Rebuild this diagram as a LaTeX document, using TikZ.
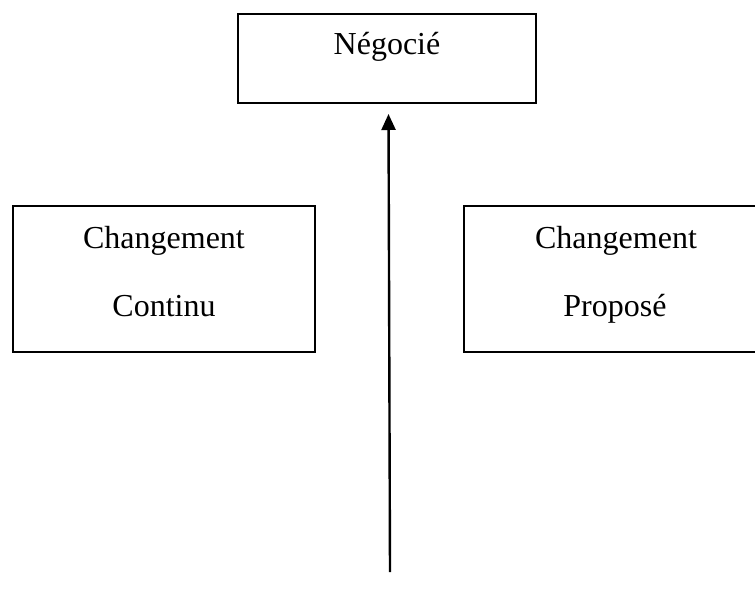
\documentclass[tikz,border=0pt]{standalone}
\usepackage{fontspec}
\setmainfont{Liberation Serif}
\usetikzlibrary{arrows.meta}
\begin{document}
\begin{tikzpicture}[x=1pt,y=-1pt,
  box/.style={draw=black,line width=1.6pt,fill=none,inner sep=0pt,outer sep=0pt},
  lbl/.style={font=\fontsize{32}{38}\selectfont,anchor=base,inner sep=0pt},
  arr/.style={line width=2.4pt,-{Triangle[length=16pt,width=14pt]}}]
\clip (0,0) rectangle (755,598);
\fill[white] (0,0) rectangle (755,598);
\node[box,minimum width=298pt,minimum height=89pt] (neg) at (387,58.5) {};
\node[box,minimum width=302pt,minimum height=146pt] (cont) at (164,279) {};
\node[box,minimum width=304pt,minimum height=146pt] (prop) at (616,279) {};
\node[lbl] (negt) at (387,54) {Négocié};
\node[lbl] (cont1) at (164,248) {Changement};
\node[lbl] (cont2) at (164,316) {Continu};
\node[lbl] (prop1) at (616,248) {Changement};
\node[lbl] (prop2) at (615,316) {Proposé};
\coordinate (tail) at (390,572);
\coordinate (tip) at (388.5,114);
\draw[arr] (tail) -- (tip);
\end{tikzpicture}
\end{document}
